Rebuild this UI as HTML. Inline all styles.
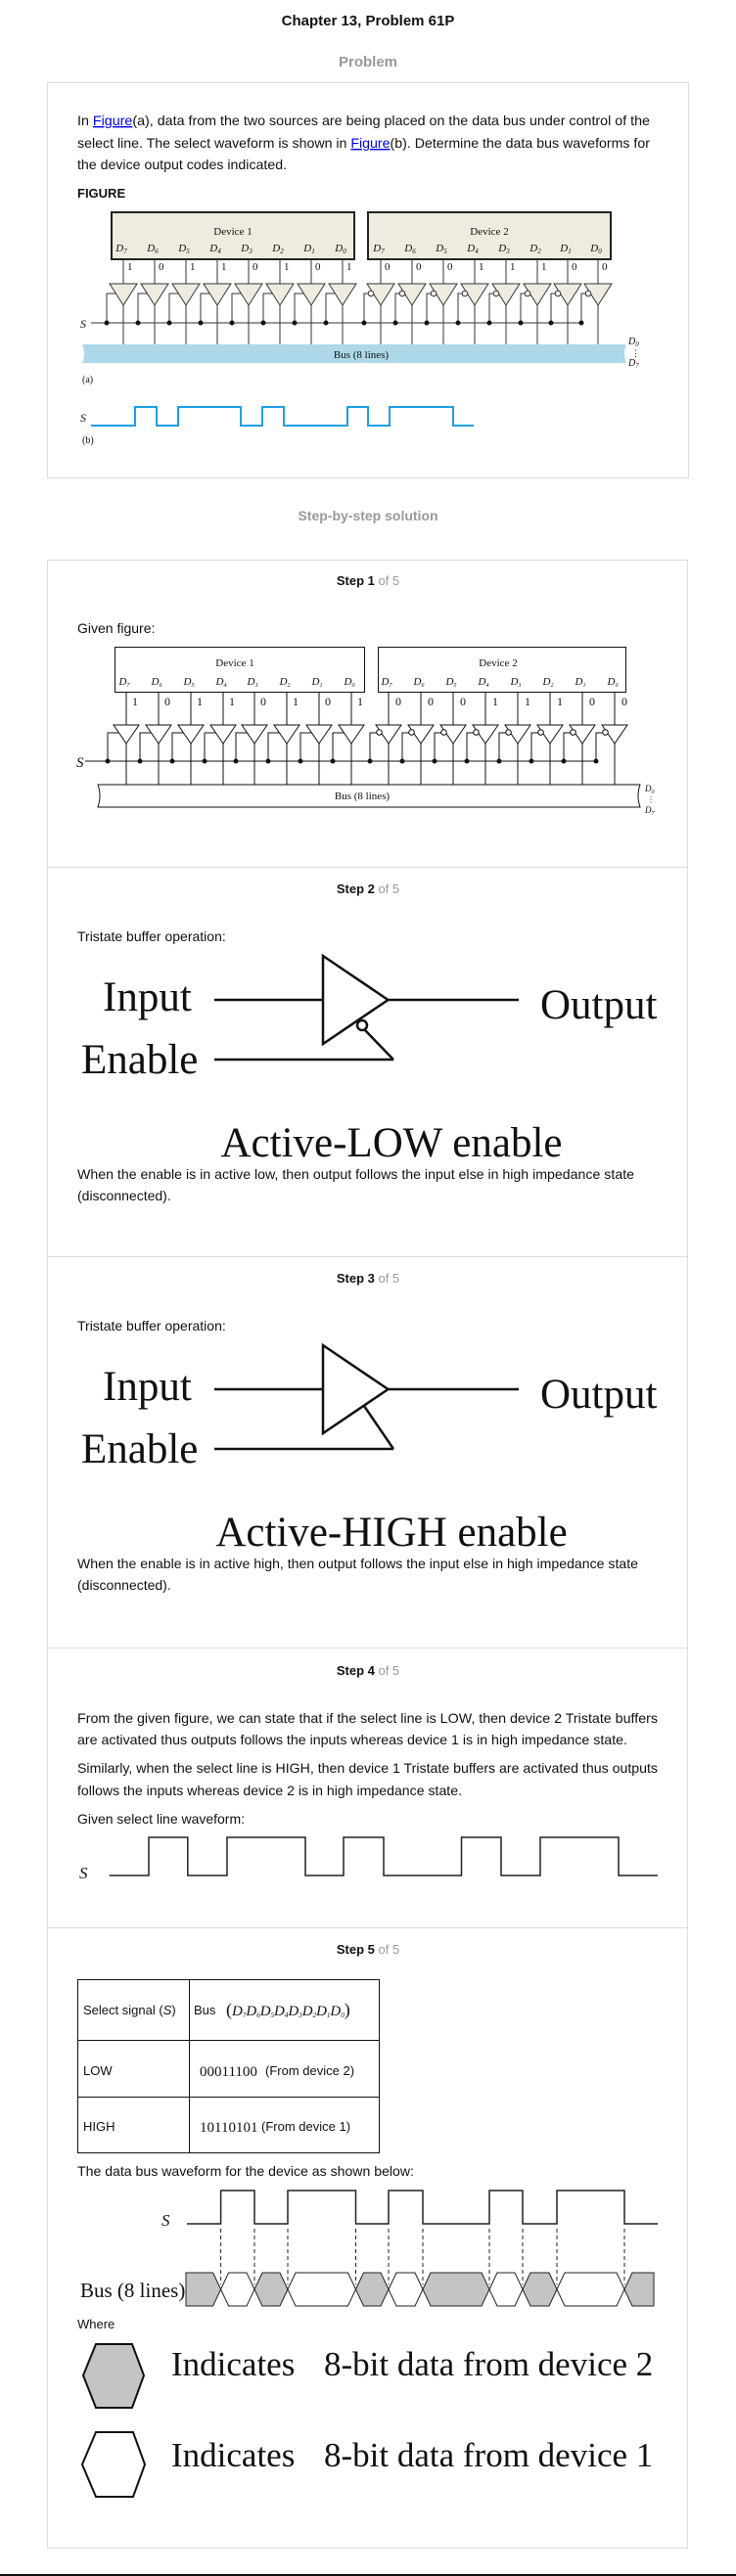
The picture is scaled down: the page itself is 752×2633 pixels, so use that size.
<!DOCTYPE html>
<html><head><meta charset="utf-8">
<style>
html,body{margin:0;padding:0;background:#fff;}
svg{display:block;}
.t{font-family:"Liberation Sans",Arial,sans-serif;font-size:14px;fill:#111;}
.tt{font-family:"Liberation Sans",Arial,sans-serif;font-size:13px;fill:#111;}
.h{font-family:"Liberation Sans",Arial,sans-serif;font-size:13px;font-weight:bold;fill:#111;}
.g{fill:#999;font-weight:normal;}
.s{font-family:"Liberation Serif","Times New Roman",serif;fill:#111;}
.i{font-family:"Liberation Serif","Times New Roman",serif;font-style:italic;fill:#111;}
</style></head>
<body>
<svg width="752" height="2633" viewBox="0 0 752 2633" xmlns="http://www.w3.org/2000/svg">
<defs>
  <g id="a1" stroke="#333" stroke-width="1" fill="none">
    <line x1="0" y1="265" x2="0" y2="290"/>
    <polygon points="-14,290 14,290 0,312" fill="#efebe0"/>
    <line x1="0" y1="312" x2="0" y2="352"/>
    <polyline points="-8,300 -17,300 -17,330"/>
    <circle cx="-17" cy="330" r="2.5" fill="#111" stroke="none"/>
  </g>
  <g id="a2" stroke="#333" stroke-width="1" fill="none">
    <line x1="0" y1="265" x2="0" y2="290"/>
    <polygon points="-14,290 14,290 0,312" fill="#efebe0"/>
    <line x1="0" y1="312" x2="0" y2="352"/>
    <circle cx="-10" cy="300" r="2.8" fill="#fff"/>
    <polyline points="-13,300 -17,300 -17,330"/>
    <circle cx="-17" cy="330" r="2.5" fill="#111" stroke="none"/>
  </g>
  <g id="s1" stroke="#111" stroke-width="1" fill="none">
    <line x1="0" y1="707" x2="0" y2="741"/>
    <polygon points="-13,741 13,741 0,760" fill="#fff"/>
    <line x1="0" y1="760" x2="0" y2="802"/>
    <polyline points="-7.5,749 -19,749 -19,778"/>
    <circle cx="-19" cy="778" r="2.5" fill="#111" stroke="none"/>
  </g>
  <g id="s2" stroke="#111" stroke-width="1" fill="none">
    <line x1="0" y1="707" x2="0" y2="741"/>
    <polygon points="-13,741 13,741 0,760" fill="#fff"/>
    <line x1="0" y1="760" x2="0" y2="802"/>
    <circle cx="-9.5" cy="748.5" r="2.8" fill="#fff"/>
    <polyline points="-12.5,749 -19,749 -19,778"/>
    <circle cx="-19" cy="778" r="2.5" fill="#111" stroke="none"/>
  </g>
</defs>

<!-- Header -->
<text x="376" y="26" text-anchor="middle" font-family="Liberation Sans, Arial, sans-serif" font-size="15" font-weight="bold" fill="#111">Chapter 13, Problem 61P</text>
<text x="376" y="68" text-anchor="middle" font-family="Liberation Sans, Arial, sans-serif" font-size="15" font-weight="bold" fill="#999">Problem</text>

<!-- Problem box -->
<rect x="48.5" y="84.5" width="655" height="404" fill="#fff" stroke="#ddd"/>
<text class="t" x="79" y="128" textLength="585" lengthAdjust="spacingAndGlyphs">In <tspan fill="#0000ee" text-decoration="underline">Figure</tspan>(a), data from the two sources are being placed on the data bus under control of the</text>
<text class="t" x="79" y="151" textLength="585" lengthAdjust="spacingAndGlyphs">select line. The select waveform is shown in <tspan fill="#0000ee" text-decoration="underline">Figure</tspan>(b). Determine the data bus waveforms for</text>
<text class="t" x="79" y="173" textLength="214" lengthAdjust="spacingAndGlyphs">the device output codes indicated.</text>
<text class="h" x="79" y="202" font-size="13">FIGURE</text>

<!-- Figure (a) -->
<rect x="114" y="217" width="248" height="48" fill="#efebe0" stroke="#222" stroke-width="2"/>
<rect x="376" y="217" width="248" height="48" fill="#efebe0" stroke="#222" stroke-width="2"/>
<text class="s" x="238" y="240" text-anchor="middle" font-size="11">Device 1</text>
<text class="s" x="500" y="240" text-anchor="middle" font-size="11">Device 2</text>
<g class="i" font-size="11" text-anchor="middle">
<text x="124" y="257">D<tspan font-size="7" dy="2">7</tspan></text>
<text x="156" y="257">D<tspan font-size="7" dy="2">6</tspan></text>
<text x="188" y="257">D<tspan font-size="7" dy="2">5</tspan></text>
<text x="220" y="257">D<tspan font-size="7" dy="2">4</tspan></text>
<text x="252" y="257">D<tspan font-size="7" dy="2">3</tspan></text>
<text x="284" y="257">D<tspan font-size="7" dy="2">2</tspan></text>
<text x="316" y="257">D<tspan font-size="7" dy="2">1</tspan></text>
<text x="348" y="257">D<tspan font-size="7" dy="2">0</tspan></text>
<text x="387" y="257">D<tspan font-size="7" dy="2">7</tspan></text>
<text x="419" y="257">D<tspan font-size="7" dy="2">6</tspan></text>
<text x="451" y="257">D<tspan font-size="7" dy="2">5</tspan></text>
<text x="483" y="257">D<tspan font-size="7" dy="2">4</tspan></text>
<text x="515" y="257">D<tspan font-size="7" dy="2">3</tspan></text>
<text x="547" y="257">D<tspan font-size="7" dy="2">2</tspan></text>
<text x="578" y="257">D<tspan font-size="7" dy="2">1</tspan></text>
<text x="609" y="257">D<tspan font-size="7" dy="2">0</tspan></text>
</g>
<g class="s" font-size="11">
<text x="130" y="276">1</text><text x="162" y="276">0</text><text x="194" y="276">1</text><text x="226" y="276">1</text>
<text x="258" y="276">0</text><text x="290" y="276">1</text><text x="322" y="276">0</text><text x="354" y="276">1</text>
<text x="393" y="276">0</text><text x="425" y="276">0</text><text x="457" y="276">0</text><text x="489" y="276">1</text>
<text x="521" y="276">1</text><text x="553" y="276">1</text><text x="584" y="276">0</text><text x="615" y="276">0</text>
</g>
<line x1="93" y1="330" x2="594" y2="330" stroke="#333"/>
<use href="#a1" x="126"/><use href="#a1" x="158"/><use href="#a1" x="190"/><use href="#a1" x="222"/>
<use href="#a1" x="254"/><use href="#a1" x="286"/><use href="#a1" x="318"/><use href="#a1" x="350"/>
<use href="#a2" x="389"/><use href="#a2" x="421"/><use href="#a2" x="453"/><use href="#a2" x="485"/>
<use href="#a2" x="517"/><use href="#a2" x="549"/><use href="#a2" x="580"/><use href="#a2" x="611"/>
<path d="M84,352 L640,352 Q636,361 640,371 L84,371 Q88,361 84,352 Z" fill="#add8ea"/>
<text class="s" x="369" y="366" text-anchor="middle" font-size="11">Bus (8 lines)</text>
<text class="i" x="642" y="352" font-size="10">D<tspan font-size="7" dy="2">0</tspan></text>
<text class="s" x="645" y="364" font-size="9">⋮</text>
<text class="i" x="642" y="374" font-size="10">D<tspan font-size="7" dy="2">7</tspan></text>
<text class="i" x="82" y="335" font-size="12">S</text>
<text class="s" x="84" y="391" font-size="10">(a)</text>
<text class="i" x="82" y="431" font-size="12">S</text>
<text class="s" x="84" y="453" font-size="10">(b)</text>
<path d="M93,435 H138 V416 H160 V435 H182 V416 H246 V435 H268 V416 H290 V435 H355 V416 H376 V435 H398 V416 H463 V435 H484" fill="none" stroke="#1e9fe6" stroke-width="2"/>

<text x="376" y="532" text-anchor="middle" font-family="Liberation Sans, Arial, sans-serif" font-size="14" font-weight="bold" fill="#999">Step-by-step solution</text>

<!-- Steps box -->
<rect x="48.5" y="572.5" width="654" height="2032" fill="#fff" stroke="#ddd"/>
<line x1="49" y1="886.5" x2="702" y2="886.5" stroke="#ddd"/>
<line x1="49" y1="1284.5" x2="702" y2="1284.5" stroke="#ddd"/>
<line x1="49" y1="1684.5" x2="702" y2="1684.5" stroke="#ddd"/>
<line x1="49" y1="1970.5" x2="702" y2="1970.5" stroke="#ddd"/>

<!-- Step 1 -->
<text class="h" x="376" y="598" text-anchor="middle">Step 1 <tspan class="g">of 5</tspan></text>
<text class="t" x="79" y="647">Given figure:</text>
<rect x="117.5" y="661.5" width="255" height="46" fill="#fff" stroke="#111"/>
<rect x="386.5" y="661.5" width="253" height="46" fill="#fff" stroke="#111"/>
<text class="s" x="240" y="681" text-anchor="middle" font-size="11">Device 1</text>
<text class="s" x="509" y="681" text-anchor="middle" font-size="11">Device 2</text>
<g class="i" font-size="11" text-anchor="middle">
<text x="127" y="700">D<tspan font-size="6" dy="2">7</tspan></text>
<text x="160" y="700">D<tspan font-size="6" dy="2">6</tspan></text>
<text x="193" y="700">D<tspan font-size="6" dy="2">5</tspan></text>
<text x="226" y="700">D<tspan font-size="6" dy="2">4</tspan></text>
<text x="258" y="700">D<tspan font-size="6" dy="2">3</tspan></text>
<text x="291" y="700">D<tspan font-size="6" dy="2">2</tspan></text>
<text x="324" y="700">D<tspan font-size="6" dy="2">1</tspan></text>
<text x="357" y="700">D<tspan font-size="6" dy="2">0</tspan></text>
<text x="395" y="700">D<tspan font-size="6" dy="2">7</tspan></text>
<text x="428" y="700">D<tspan font-size="6" dy="2">6</tspan></text>
<text x="461" y="700">D<tspan font-size="6" dy="2">5</tspan></text>
<text x="494" y="700">D<tspan font-size="6" dy="2">4</tspan></text>
<text x="527" y="700">D<tspan font-size="6" dy="2">3</tspan></text>
<text x="560" y="700">D<tspan font-size="6" dy="2">2</tspan></text>
<text x="593" y="700">D<tspan font-size="6" dy="2">1</tspan></text>
<text x="626" y="700">D<tspan font-size="6" dy="2">0</tspan></text>
</g>
<g class="s" font-size="12">
<text x="135" y="721">1</text><text x="168" y="721">0</text><text x="201" y="721">1</text><text x="234" y="721">1</text>
<text x="266" y="721">0</text><text x="299" y="721">1</text><text x="332" y="721">0</text><text x="365" y="721">1</text>
<text x="404" y="721">0</text><text x="437" y="721">0</text><text x="470" y="721">0</text><text x="503" y="721">1</text>
<text x="536" y="721">1</text><text x="569" y="721">1</text><text x="602" y="721">0</text><text x="635" y="721">0</text>
</g>
<line x1="92" y1="778" x2="609" y2="778" stroke="#111"/>
<use href="#s1" x="129"/><use href="#s1" x="162"/><use href="#s1" x="195"/><use href="#s1" x="228"/>
<use href="#s1" x="260"/><use href="#s1" x="293"/><use href="#s1" x="326"/><use href="#s1" x="359"/>
<use href="#s2" x="397"/><use href="#s2" x="430"/><use href="#s2" x="463"/><use href="#s2" x="496"/>
<use href="#s2" x="529"/><use href="#s2" x="562"/><use href="#s2" x="595"/><use href="#s2" x="628"/>
<path d="M100,802 L654,802 Q650,813 654,825 L100,825 Q104,813 100,802 Z" fill="#fff" stroke="#111"/>
<text class="s" x="370" y="817" text-anchor="middle" font-size="11">Bus (8 lines)</text>
<text class="i" x="659" y="809" font-size="9">D<tspan font-size="6" dy="2">0</tspan></text>
<text class="s" x="661" y="820" font-size="8">⋮</text>
<text class="i" x="659" y="831" font-size="9">D<tspan font-size="6" dy="2">7</tspan></text>
<text class="i" x="78" y="784" font-size="15">S</text>
<line x1="87" y1="778" x2="92" y2="778" stroke="#111"/>

<!-- Step 2 -->
<text class="h" x="376" y="913" text-anchor="middle">Step 2 <tspan class="g">of 5</tspan></text>
<text class="t" x="79" y="962">Tristate buffer operation:</text>
<g stroke="#111" stroke-width="2.5" fill="none">
<line x1="219" y1="1022" x2="330" y2="1022"/>
<polygon points="330,977 396.5,1022 330,1067"/>
<line x1="396.5" y1="1022" x2="530" y2="1022"/>
<line x1="219" y1="1083" x2="402" y2="1083"/>
<line x1="402" y1="1083" x2="373" y2="1053"/>
<circle cx="370" cy="1048" r="5" fill="#fff"/>
</g>
<text class="s" x="105" y="1033" font-size="43">Input</text>
<text class="s" x="552" y="1041" font-size="43">Output</text>
<text class="s" x="83" y="1097" font-size="43">Enable</text>
<text class="s" x="400" y="1182" text-anchor="middle" font-size="43">Active-LOW enable</text>
<text class="t" x="79" y="1205" textLength="569" lengthAdjust="spacingAndGlyphs">When the enable is in active low, then output follows the input else in high impedance state</text>
<text class="t" x="79" y="1227">(disconnected).</text>

<!-- Step 3 -->
<text class="h" x="376" y="1311" text-anchor="middle">Step 3 <tspan class="g">of 5</tspan></text>
<text class="t" x="79" y="1360">Tristate buffer operation:</text>
<g stroke="#111" stroke-width="2.5" fill="none">
<line x1="219" y1="1420" x2="330" y2="1420"/>
<polygon points="330,1375 396.5,1420 330,1465"/>
<line x1="396.5" y1="1420" x2="530" y2="1420"/>
<line x1="219" y1="1481" x2="402" y2="1481"/>
<line x1="402" y1="1481" x2="372" y2="1437"/>
</g>
<text class="s" x="105" y="1431" font-size="43">Input</text>
<text class="s" x="552" y="1439" font-size="43">Output</text>
<text class="s" x="83" y="1495" font-size="43">Enable</text>
<text class="s" x="400" y="1580" text-anchor="middle" font-size="43">Active-HIGH enable</text>
<text class="t" x="79" y="1603" textLength="573" lengthAdjust="spacingAndGlyphs">When the enable is in active high, then output follows the input else in high impedance state</text>
<text class="t" x="79" y="1625">(disconnected).</text>

<!-- Step 4 -->
<text class="h" x="376" y="1712" text-anchor="middle">Step 4 <tspan class="g">of 5</tspan></text>
<text class="t" x="79" y="1761" textLength="593" lengthAdjust="spacingAndGlyphs">From the given figure, we can state that if the select line is LOW, then device 2 Tristate buffers</text>
<text class="t" x="79" y="1783" textLength="562" lengthAdjust="spacingAndGlyphs">are activated thus outputs follows the inputs whereas device 1 is in high impedance state.</text>
<text class="t" x="79" y="1812" textLength="593" lengthAdjust="spacingAndGlyphs">Similarly, when the select line is HIGH, then device 1 Tristate buffers are activated thus outputs</text>
<text class="t" x="79" y="1835" textLength="393" lengthAdjust="spacingAndGlyphs">follows the inputs whereas device 2 is in high impedance state.</text>
<text class="t" x="79" y="1864" textLength="171" lengthAdjust="spacingAndGlyphs">Given select line waveform:</text>
<text class="i" x="81" y="1920" font-size="17">S</text>
<path d="M111.5,1917 H152 V1878 H191.8 V1917 H232 V1878 H312 V1917 H351 V1878 H392 V1917 H471.5 V1878 H512 V1917 H552 V1878 H632 V1917 H672" fill="none" stroke="#222" stroke-width="1.5"/>

<!-- Step 5 -->
<text class="h" x="376" y="1997" text-anchor="middle">Step 5 <tspan class="g">of 5</tspan></text>
<g stroke="#111" stroke-width="1" fill="none">
<rect x="79.5" y="2023.5" width="308" height="177"/>
<line x1="193.5" y1="2023" x2="193.5" y2="2200"/>
<line x1="79" y1="2085.5" x2="387" y2="2085.5"/>
<line x1="79" y1="2143.5" x2="387" y2="2143.5"/>
</g>
<text class="tt" x="85" y="2059">Select signal (<tspan font-style="italic">S</tspan>)</text>
<text class="tt" x="198" y="2059">Bus</text>
<text class="i" x="231" y="2060" font-size="15"><tspan font-style="normal" font-size="18">(</tspan>D<tspan font-size="7" dy="2">7</tspan><tspan dy="-2">D</tspan><tspan font-size="7" dy="2">6</tspan><tspan dy="-2">D</tspan><tspan font-size="7" dy="2">5</tspan><tspan dy="-2">D</tspan><tspan font-size="7" dy="2">4</tspan><tspan dy="-2">D</tspan><tspan font-size="7" dy="2">3</tspan><tspan dy="-2">D</tspan><tspan font-size="7" dy="2">2</tspan><tspan dy="-2">D</tspan><tspan font-size="7" dy="2">1</tspan><tspan dy="-2">D</tspan><tspan font-size="7" dy="2">0</tspan><tspan dy="-2" font-style="normal" font-size="18">)</tspan></text>
<text class="tt" x="85" y="2121">LOW</text>
<text class="s" x="204" y="2122" font-size="15">00011100</text>
<text class="tt" x="271" y="2121">(From device 2)</text>
<text class="tt" x="85" y="2178">HIGH</text>
<text class="s" x="204" y="2179" font-size="15">10110101</text>
<text class="tt" x="267" y="2178">(From device 1)</text>
<text class="t" x="79" y="2224" textLength="344" lengthAdjust="spacingAndGlyphs">The data bus waveform for the device as shown below:</text>
<text class="i" x="165" y="2275" font-size="17">S</text>
<path d="M191,2273 H225.6 V2239 H260 V2273 H294 V2239 H363.5 V2273 H397 V2239 H432 V2273 H500 V2239 H534 V2273 H569 V2239 H638 V2273 H672" fill="none" stroke="#222" stroke-width="1.5"/>
<g stroke="#222" stroke-width="1" stroke-dasharray="4,3">
<line x1="225.6" y1="2278" x2="225.6" y2="2335"/><line x1="260" y1="2278" x2="260" y2="2335"/>
<line x1="294" y1="2278" x2="294" y2="2335"/><line x1="363.5" y1="2278" x2="363.5" y2="2335"/>
<line x1="397" y1="2278" x2="397" y2="2335"/><line x1="432" y1="2278" x2="432" y2="2335"/>
<line x1="500" y1="2278" x2="500" y2="2335"/><line x1="534" y1="2278" x2="534" y2="2335"/>
<line x1="569" y1="2278" x2="569" y2="2335"/><line x1="638" y1="2278" x2="638" y2="2335"/>
</g>
<g stroke="#222" stroke-width="1">
<polygon fill="#c4c4c4" points="190,2323 217.6,2323 225.6,2340 217.6,2357 190,2357"/>
<polygon fill="#fff" points="225.6,2340 233.6,2323 252,2323 260,2340 252,2357 233.6,2357"/>
<polygon fill="#c4c4c4" points="260,2340 268,2323 286,2323 294,2340 286,2357 268,2357"/>
<polygon fill="#fff" points="294,2340 302,2323 355.5,2323 363.5,2340 355.5,2357 302,2357"/>
<polygon fill="#c4c4c4" points="363.5,2340 371.5,2323 389,2323 397,2340 389,2357 371.5,2357"/>
<polygon fill="#fff" points="397,2340 405,2323 424,2323 432,2340 424,2357 405,2357"/>
<polygon fill="#c4c4c4" points="432,2340 440,2323 492,2323 500,2340 492,2357 440,2357"/>
<polygon fill="#fff" points="500,2340 508,2323 526,2323 534,2340 526,2357 508,2357"/>
<polygon fill="#c4c4c4" points="534,2340 542,2323 561,2323 569,2340 561,2357 542,2357"/>
<polygon fill="#fff" points="569,2340 577,2323 630,2323 638,2340 630,2357 577,2357"/>
<polygon fill="#c4c4c4" points="638,2340 646,2323 668,2323 668,2357 646,2357"/>
</g>
<text class="s" x="82" y="2348" font-size="21">Bus (8 lines)</text>
<text class="tt" x="79" y="2380" font-size="12">Where</text>
<polygon points="85,2428 98,2396 135,2396 147,2428 135,2461 98,2461" fill="#c4c4c4" stroke="#111" stroke-width="2"/>
<polygon points="84,2519 98,2486 136,2486 148,2519 136,2552 98,2552" fill="#fff" stroke="#111" stroke-width="2"/>
<text class="s" x="175" y="2428" font-size="35">Indicates</text>
<text class="s" x="331" y="2428" font-size="35">8-bit data from device 2</text>
<text class="s" x="175" y="2521" font-size="35">Indicates</text>
<text class="s" x="331" y="2521" font-size="35">8-bit data from device 1</text>

<rect x="0" y="2631" width="752" height="2" fill="#111"/>
</svg>
</body></html>
